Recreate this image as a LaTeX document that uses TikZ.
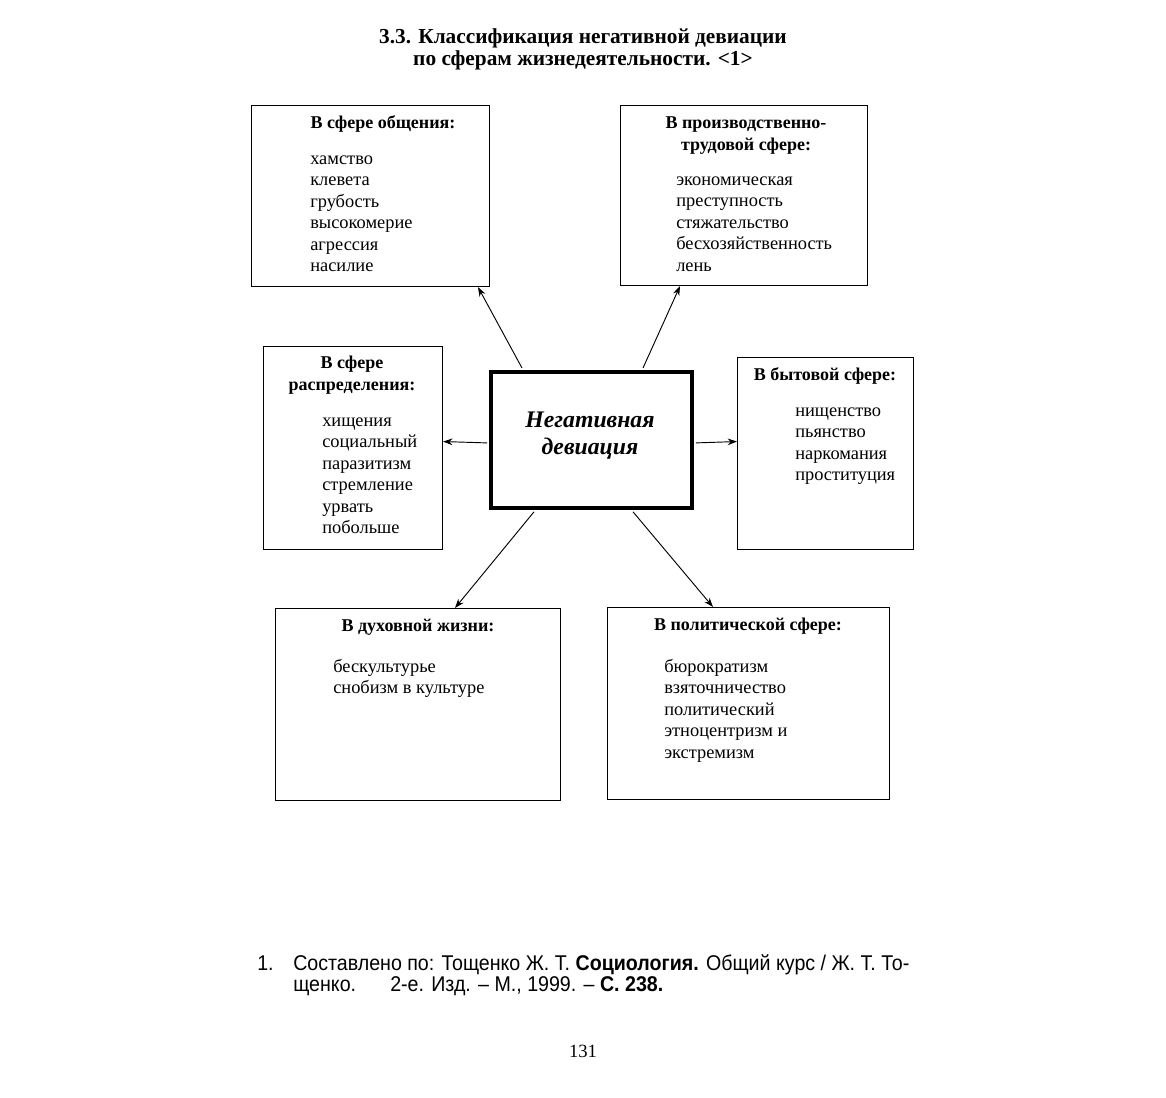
\documentclass[tikz,border=0pt]{standalone}
\usepackage{fontspec}
\setmainfont{Liberation Serif}
\newfontfamily\fnsans[FakeStretch=0.92]{Liberation Sans}
\usetikzlibrary{arrows.meta,calc}
\begin{document}
\begin{tikzpicture}[x=0.75pt,y=-0.75pt,
  box/.style={draw,line width=0.8pt,anchor=north west,inner sep=0pt},
  cbox/.style={draw,line width=3.6pt,anchor=north west,inner sep=0pt},
  head/.style={anchor=base,align=center,inner sep=0pt,font=\fontsize{13.5}{16.5}\selectfont\bfseries},
  items/.style={anchor=base west,align=left,inner sep=0pt,font=\fontsize{13.8}{16.1}\selectfont},
  arr/.style={line width=0.7pt,-{Stealth[length=7pt,width=5pt]}}]
\useasboundingbox (0,0) rectangle (1166,1097);
% title
\node[anchor=base,align=center,inner sep=0pt,font=\fontsize{16}{16.5}\selectfont\bfseries] (title) at (583,65)
  {3.3. Классификация негативной девиации\\по сферам жизнедеятельности. <1>};
% boxes
\node[box,minimum width=238*0.75pt,minimum height=181*0.75pt] (b1) at (251,105) {};
\node[box,minimum width=247*0.75pt,minimum height=180*0.75pt] (b2) at (620,105) {};
\node[box,minimum width=179*0.75pt,minimum height=203*0.75pt] (b3) at (263,346) {};
\node[box,minimum width=176*0.75pt,minimum height=192*0.75pt] (b4) at (737,357) {};
\node[cbox,minimum width=201*0.75pt,minimum height=136*0.75pt] (c) at (488.5,369.5) {};
\node[box,minimum width=285*0.75pt,minimum height=192*0.75pt] (b6) at (275,608) {};
\node[box,minimum width=282*0.75pt,minimum height=192*0.75pt] (b7) at (607,607) {};
% texts (anchor base = last line baseline)
\node[head] (h1) at (383,128) {В сфере общения:};
\node[items] (t1) at (310,271.5) {хамство\\клевета\\грубость\\высокомерие\\агрессия\\насилие};
\node[head] (h2) at (746,150) {В производственно-\\трудовой сфере:};
\node[items] (t2) at (676,271) {экономическая\\преступность\\стяжательство\\бесхозяйственность\\лень};
\node[head] (h3) at (352,390) {В сфере\\распределения:};
\node[items] (t3) at (322,533.5) {хищения\\социальный\\паразитизм\\стремление\\урвать\\побольше};
\node[head] (h4) at (825,380) {В бытовой сфере:};
\node[items] (t4) at (795,480.5) {нищенство\\пьянство\\наркомания\\проституция};
\node[anchor=base,align=center,inner sep=0pt,font=\fontsize{17.8}{20.2}\selectfont\bfseries\itshape] (ct) at (590,454) {Негативная\\девиация};
\node[head] (h6) at (418,631) {В духовной жизни:};
\node[items] (t6) at (333,693.5) {бескультурье\\снобизм в культуре};
\node[head] (h7) at (748,630) {В политической сфере:};
\node[items] (t7) at (664,758) {бюрократизм\\взяточничество\\политический\\этноцентризм и\\экстремизм};
% arrows
\draw[arr] ($(c.north west)+(33.5,-1.5)$) -- ($(b1.south west)+(227,0)$);
\draw[arr] ($(c.north west)+(154.5,-1.5)$) -- ($(b2.south west)+(60,0)$);
\draw[arr] ($(c.west)+(-1.5,3)$) -- ($(b3.east)+(0,-6.5)$);
\draw[arr] ($(c.east)+(1.5,3)$) -- ($(b4.west)+(0,-12)$);
\draw[arr] ($(c.south west)+(45.5,1.5)$) -- ($(b6.north west)+(180,0)$);
\draw[arr] ($(c.south west)+(144.5,1.5)$) -- ($(b7.north west)+(106,0)$);
% footnote
\node[anchor=base west,inner sep=0pt,font=\fontsize{16}{21}\fnsans] (fn1) at (257,970) {1.};
\node[anchor=base west,align=left,inner sep=0pt,font=\fontsize{16}{15.75}\fnsans] (fn) at (293,991)
  {Составлено по: Тощенко Ж. Т. \textbf{Социология.} Общий курс / Ж. Т. То-\\щенко.\hspace{1.6em}2-е. Изд. – М., 1999. – \textbf{С. 238.}};
\node[anchor=base,inner sep=0pt,font=\fontsize{14}{16}\selectfont] (pg) at (583,1057) {131};
\end{tikzpicture}
\end{document}
